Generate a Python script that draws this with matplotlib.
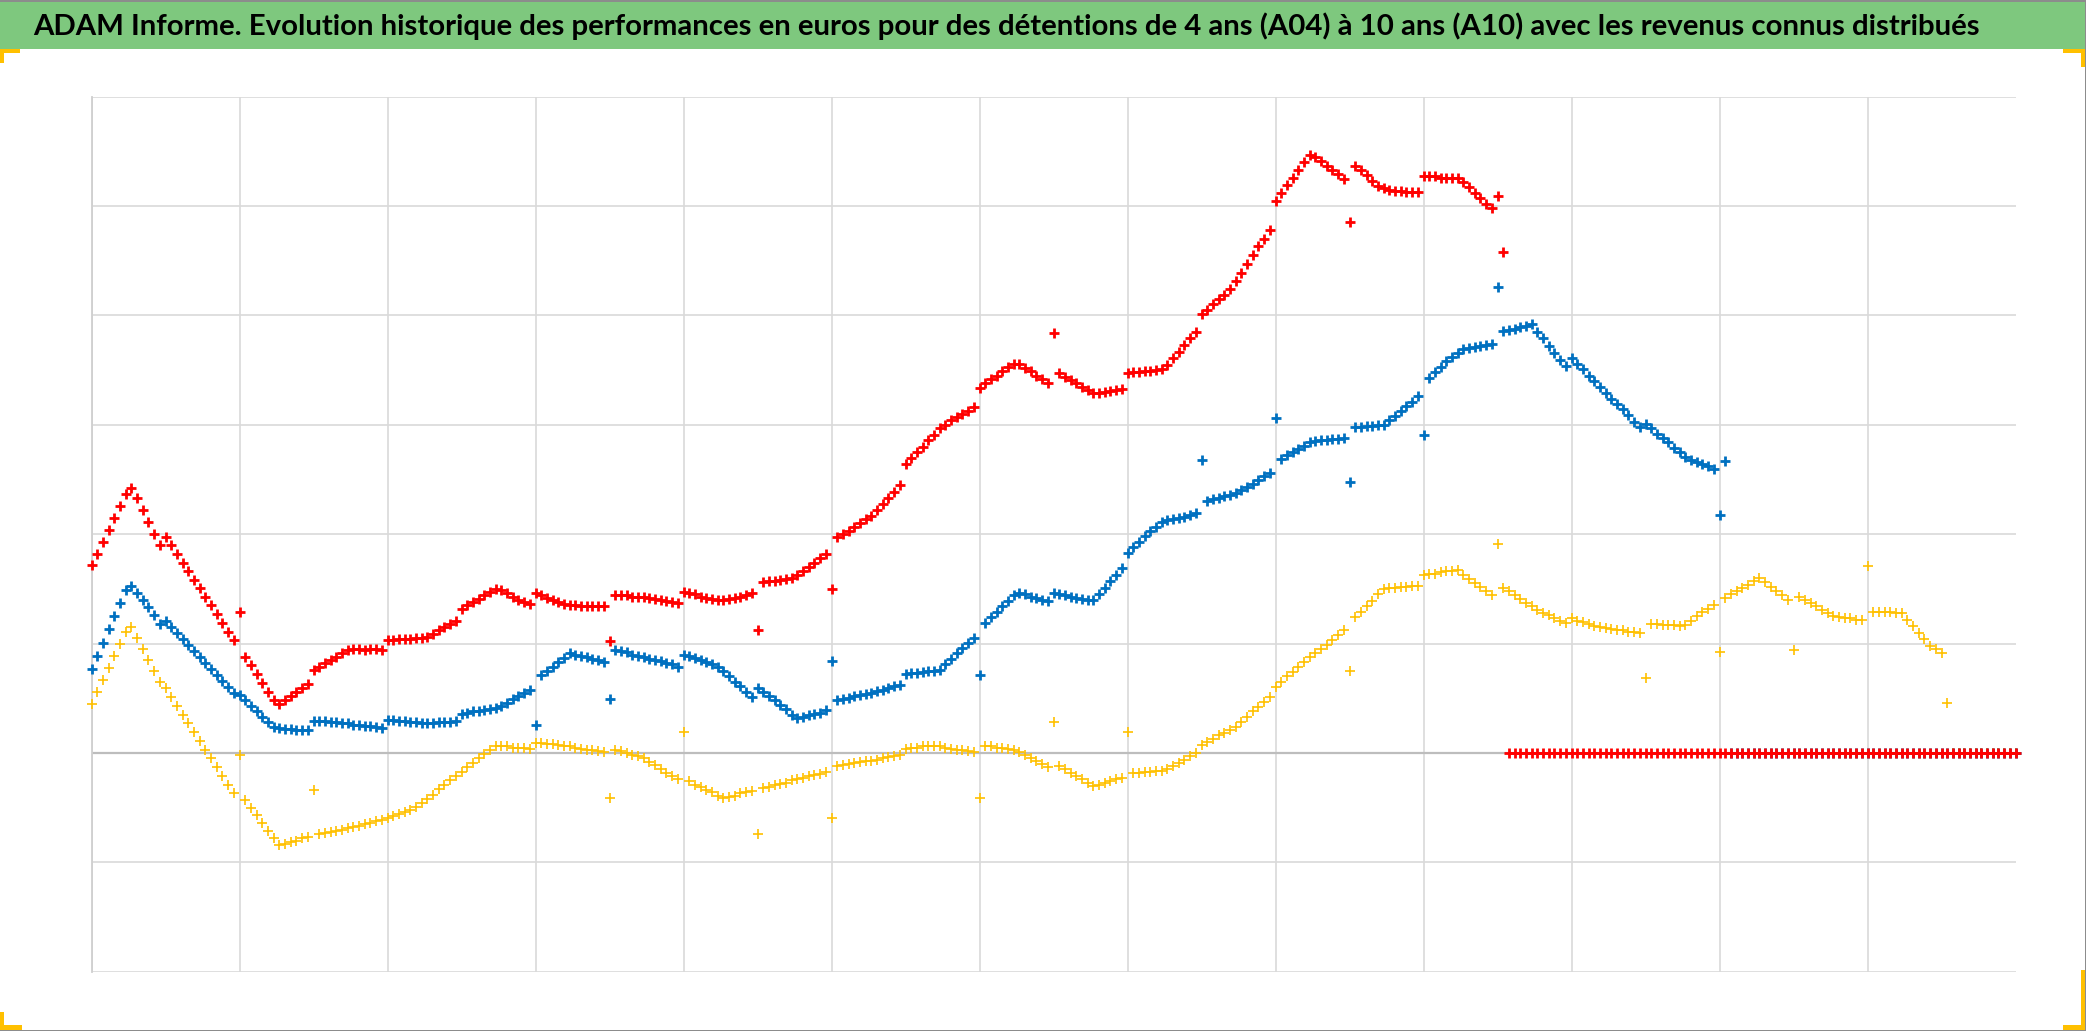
import numpy as np
import matplotlib
matplotlib.use("Agg")
import matplotlib.pyplot as plt
from matplotlib import font_manager
from matplotlib.patches import Rectangle

# ---------------- data (26 points per vertical grid interval) ----------------
TITLE = ("ADAM Informe. Evolution historique des performances en euros pour des "
         "détentions de 4 ans (A04) à 10 ans (A10) avec les revenus connus distribués")

red_curve = [
    1.72,1.82,1.93,2.04,2.15,2.26,2.37,2.42,2.33,2.22,2.11,2.00,1.90,1.97,1.90,1.82,1.74,1.66,1.58,1.51,1.43,1.35,1.27,1.19,1.11,1.03,
    1.29,0.88,0.80,0.72,0.64,0.56,0.48,0.45,0.48,0.52,0.56,0.59,0.63,0.76,0.79,0.82,0.85,0.88,0.91,0.94,0.95,0.95,0.94,0.95,0.95,0.94,
    1.03,1.03,1.04,1.04,1.04,1.05,1.05,1.06,1.09,1.12,1.15,1.18,1.21,1.32,1.35,1.38,1.41,1.44,1.47,1.50,1.49,1.46,1.43,1.40,1.38,1.36,
    1.46,1.44,1.42,1.40,1.38,1.36,1.35,1.35,1.34,1.34,1.34,1.34,1.34,1.02,1.44,1.44,1.44,1.43,1.43,1.43,1.42,1.41,1.40,1.39,1.38,1.37,
    1.47,1.46,1.45,1.43,1.42,1.41,1.40,1.40,1.41,1.42,1.43,1.44,1.46,1.12,1.56,1.57,1.57,1.58,1.59,1.60,1.63,1.66,1.70,1.74,1.78,1.82,
    1.50,1.97,2.00,2.03,2.07,2.10,2.14,2.17,2.22,2.28,2.33,2.39,2.45,2.64,2.70,2.75,2.80,2.86,2.91,2.97,3.00,3.04,3.07,3.10,3.13,3.16,
    3.34,3.38,3.42,3.45,3.49,3.53,3.56,3.56,3.52,3.49,3.45,3.42,3.38,3.84,3.47,3.44,3.41,3.38,3.35,3.32,3.29,3.29,3.30,3.31,3.32,3.33,
    3.47,3.48,3.48,3.49,3.49,3.50,3.51,3.55,3.61,3.67,3.73,3.79,3.85,4.01,4.05,4.10,4.15,4.19,4.24,4.31,4.39,4.47,4.55,4.63,4.70,4.78,
    5.05,5.12,5.19,5.26,5.33,5.40,5.47,5.45,5.41,5.37,5.33,5.29,5.25,4.85,5.37,5.33,5.28,5.23,5.18,5.16,5.15,5.14,5.14,5.13,5.13,5.13,
    5.27,5.27,5.27,5.26,5.26,5.26,5.26,5.22,5.17,5.12,5.07,5.02,4.98,5.09,4.58,
]
red_zero_tail = [0.0] * 90

blue_curve = [
    0.77,0.89,1.01,1.13,1.25,1.37,1.49,1.53,1.46,1.40,1.33,1.26,1.18,1.21,1.15,1.10,1.04,0.99,0.93,0.88,0.82,0.77,0.71,0.66,0.60,0.55,
    0.53,0.48,0.43,0.38,0.33,0.28,0.24,0.23,0.22,0.22,0.21,0.21,0.21,0.29,0.29,0.29,0.28,0.28,0.27,0.27,0.26,0.26,0.25,0.25,0.24,0.23,
    0.30,0.30,0.29,0.29,0.28,0.28,0.27,0.27,0.27,0.28,0.28,0.28,0.29,0.36,0.37,0.38,0.38,0.39,0.40,0.41,0.43,0.46,0.49,0.52,0.55,0.58,
    0.26,0.71,0.75,0.79,0.83,0.87,0.91,0.90,0.89,0.88,0.86,0.85,0.83,0.49,0.94,0.93,0.92,0.90,0.89,0.88,0.86,0.85,0.84,0.82,0.81,0.79,
    0.90,0.89,0.87,0.85,0.83,0.81,0.79,0.75,0.70,0.65,0.61,0.56,0.51,0.59,0.56,0.52,0.48,0.44,0.40,0.35,0.32,0.33,0.35,0.36,0.37,0.39,
    0.84,0.48,0.49,0.50,0.52,0.53,0.54,0.55,0.57,0.58,0.59,0.61,0.62,0.72,0.73,0.73,0.74,0.75,0.75,0.76,0.81,0.86,0.91,0.96,1.01,1.05,
    0.71,1.19,1.24,1.29,1.34,1.39,1.44,1.46,1.45,1.43,1.42,1.40,1.39,1.46,1.45,1.44,1.43,1.42,1.41,1.40,1.40,1.45,1.51,1.57,1.63,1.69,
    1.83,1.88,1.93,1.98,2.03,2.07,2.11,2.13,2.14,2.15,2.16,2.18,2.19,2.68,2.30,2.32,2.33,2.35,2.36,2.38,2.40,2.43,2.46,2.50,2.53,2.56,
    3.06,2.69,2.72,2.75,2.78,2.81,2.84,2.85,2.86,2.86,2.87,2.87,2.88,2.48,2.98,2.98,2.99,2.99,3.00,3.00,3.04,3.08,3.13,3.17,3.21,3.26,
    2.91,3.43,3.48,3.53,3.58,3.62,3.66,3.69,3.70,3.71,3.72,3.73,3.74,4.26,3.86,3.87,3.88,3.89,3.90,3.92,3.85,3.79,3.72,3.66,3.59,3.54,
    3.61,3.56,3.51,3.45,3.40,3.35,3.29,3.24,3.19,3.14,3.09,3.03,2.98,3.01,2.97,2.92,2.88,2.84,2.79,2.75,2.71,2.68,2.66,2.64,2.62,2.60,
    2.18,2.67,
]
blue_zero_tail = [0.0] * 51

yellow_curve = [
    0.45,0.56,0.67,0.78,0.89,1.00,1.11,1.15,1.05,0.95,0.85,0.75,0.65,0.59,0.51,0.43,0.35,0.27,0.19,0.11,0.03,-0.05,-0.13,-0.21,-0.29,-0.37,
    -0.02,-0.43,-0.50,-0.57,-0.64,-0.71,-0.78,-0.84,-0.83,-0.81,-0.80,-0.78,-0.77,-0.34,-0.74,-0.73,-0.72,-0.71,-0.70,-0.69,-0.68,-0.67,-0.65,-0.64,-0.62,-0.61,
    -0.59,-0.58,-0.56,-0.54,-0.52,-0.49,-0.46,-0.42,-0.38,-0.33,-0.29,-0.25,-0.21,-0.17,-0.13,-0.09,-0.05,-0.01,0.03,0.06,0.06,0.06,0.05,0.05,0.05,0.04,
    0.09,0.09,0.08,0.08,0.07,0.06,0.06,0.05,0.04,0.03,0.03,0.02,0.01,-0.41,0.03,0.02,0.00,-0.02,-0.03,-0.05,-0.08,-0.11,-0.15,-0.18,-0.21,-0.24,
    0.19,-0.26,-0.29,-0.31,-0.34,-0.36,-0.39,-0.41,-0.40,-0.39,-0.37,-0.36,-0.35,-0.74,-0.32,-0.31,-0.29,-0.28,-0.27,-0.25,-0.24,-0.23,-0.21,-0.20,-0.19,-0.17,
    -0.59,-0.12,-0.11,-0.10,-0.09,-0.08,-0.07,-0.07,-0.06,-0.05,-0.04,-0.03,-0.02,0.04,0.05,0.05,0.06,0.06,0.06,0.06,0.05,0.04,0.03,0.03,0.02,0.01,
    -0.41,0.06,0.06,0.05,0.05,0.04,0.03,0.01,-0.02,-0.05,-0.07,-0.10,-0.13,0.28,-0.12,-0.15,-0.18,-0.21,-0.24,-0.27,-0.30,-0.29,-0.27,-0.26,-0.24,-0.23,
    0.19,-0.18,-0.18,-0.17,-0.17,-0.16,-0.16,-0.15,-0.12,-0.09,-0.06,-0.03,0.00,0.07,0.10,0.13,0.16,0.18,0.21,0.24,0.28,0.33,0.38,0.42,0.47,0.51,
    0.60,0.65,0.70,0.74,0.79,0.83,0.88,0.91,0.95,0.99,1.03,1.08,1.12,0.75,1.24,1.29,1.34,1.39,1.45,1.50,1.51,1.51,1.52,1.52,1.53,1.53,
    1.63,1.64,1.64,1.65,1.66,1.66,1.67,1.63,1.59,1.55,1.52,1.48,1.44,1.91,1.51,1.48,1.44,1.41,1.37,1.34,1.31,1.28,1.26,1.23,1.21,1.19,
    1.23,1.21,1.20,1.18,1.16,1.15,1.14,1.13,1.12,1.12,1.11,1.11,1.10,0.69,1.18,1.18,1.17,1.17,1.17,1.16,1.17,1.21,1.25,1.29,1.32,1.35,
    0.92,1.42,1.45,1.48,1.51,1.54,1.57,1.60,1.56,1.52,1.48,1.44,1.40,0.94,1.43,1.40,1.37,1.34,1.31,1.28,1.25,1.24,1.23,1.23,1.22,1.22,
    1.71,1.29,1.29,1.29,1.29,1.28,1.28,1.22,1.16,1.10,1.04,0.98,0.95,0.91,0.46,
]
yellow_zero_tail = [0.0] * 12

POINTS_PER_INTERVAL = 26
N_INTERVALS = 13
Y_MIN, Y_MAX = -2, 6

# ---------------- figure ----------------
W, H, DPI = 2086, 1031, 100
fig = plt.figure(figsize=(W / DPI, H / DPI), dpi=DPI)
fig.patch.set_facecolor("white")


def px_rect(x, y, w, h, color, z=5):
    fig.patches.append(Rectangle((x / W, 1 - (y + h) / H), w / W, h / H,
                                 transform=fig.transFigure, facecolor=color,
                                 edgecolor="none", zorder=z))


# green title bar
px_rect(0, 0, W, 49, "#7EC87E", z=0)

names = {f.name for f in font_manager.fontManager.ttflist}
fam = "Lato" if "Lato" in names else "DejaVu Sans"
t = fig.text(33 / W, 1 - 26 / H, TITLE, ha="left", va="center",
             fontsize=20, fontweight="bold", family=[fam, "DejaVu Sans"], color="black")
fig.canvas.draw()
wpx = t.get_window_extent().width
t.set_fontsize(20 * 1949 / wpx)

# plot area
ax = fig.add_axes([91.5 / W, 1 - 971.8 / H, (2015.5 - 91.5) / W, (971.8 - 96.6) / H])
n_total = POINTS_PER_INTERVAL * N_INTERVALS
ax.set_xlim(0, n_total)
ax.set_ylim(Y_MIN, Y_MAX)
ax.set_xticks(np.arange(0, n_total, POINTS_PER_INTERVAL))
ax.set_yticks(np.arange(Y_MIN, Y_MAX + 1))
ax.grid(True, color="#D9D9D9", linewidth=1.2, zorder=0)
ax.set_axisbelow(True)
ax.tick_params(length=0, labelleft=False, labelbottom=False)
for s in ["top", "right", "bottom"]:
    ax.spines[s].set_visible(False)
ax.spines["left"].set_color("#CFCFCF")
ax.spines["left"].set_linewidth(1.3)
ax.axhline(0, color="#BDBDBD", linewidth=1.6, zorder=1)

series = [
    (yellow_curve + yellow_zero_tail, "#FFC000", 1.2),
    (blue_curve + blue_zero_tail, "#0070C0", 2.0),
    (red_curve + red_zero_tail, "#FF0000", 2.0),
]
for vals, col, mew in series:
    x = np.arange(len(vals))
    ax.plot(x, vals, linestyle="none", marker="+", markersize=7.5,
            markeredgewidth=mew, color=col, clip_on=False, zorder=3)

# orange corner brackets
OR = "#FFC000"
px_rect(0, 49, 20, 4, OR)
px_rect(0, 49, 4, 14, OR)
px_rect(2063, 49, 23, 4, OR)
px_rect(2081, 49, 5, 18, OR)
px_rect(0, 1025, 22, 6, OR)
px_rect(0, 1012, 4, 19, OR)
px_rect(2081, 970, 5, 61, OR)
px_rect(2063, 1025, 23, 6, OR)

# thin grey frame
px_rect(0, 0, W, 1.5, "#8C8C8C", z=6)
px_rect(W - 1.5, 0, 1.5, H, "#8C8C8C", z=6)
px_rect(0, H - 1.5, W, 1.5, "#8C8C8C", z=6)

fig.savefig("out.png", dpi=DPI)
